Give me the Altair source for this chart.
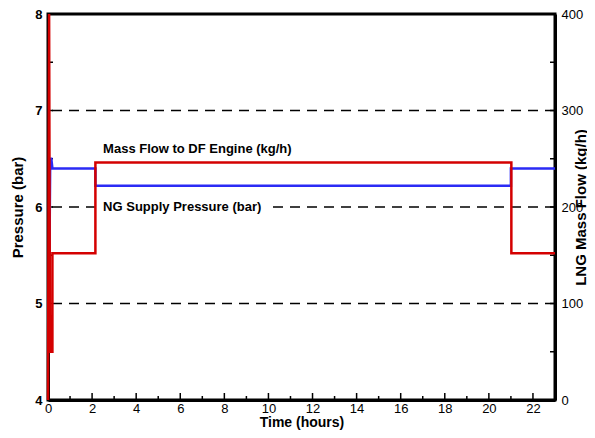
import altair as alt
import pandas as pd

# ---- data ----
hour_labels = [0, 2, 4, 6, 8, 10, 12, 14, 16, 18, 20, 22]
minor_hours = [1, 3, 5, 7, 9, 11, 13, 15, 17, 19, 21]
pressure_labels = [4, 5, 6, 7, 8]
flow_labels = [0, 100, 200, 300, 400]
grid_pressure = [5, 6, 7]
left_tick_vals = [4.5, 5, 5.5, 6, 6.5, 7, 7.5]
right_tick_vals = [50, 100, 150, 200, 250, 300, 350]

blue_t = [0.05, 0.10, 0.15, 0.20, 2.15, 2.15, 21.0, 21.0, 23.0]
blue_p = [5.00, 6.50, 6.50, 6.40, 6.40, 6.22, 6.22, 6.40, 6.40]

red_t = [0.0, 0.05, 0.09, 0.20, 0.20, 2.15, 2.15, 21.02, 21.02, 23.0]
red_m = [0, 400, 50, 50, 152, 152, 246, 246, 152, 152]

label_texts = ["Mass Flow to DF Engine (kg/h)", "NG Supply Pressure (bar)"]
label_t = [2.5, 2.5]
label_p = [6.60, 6.0]
mask_t = [2.25, 10.0]
mask_p = [5.92, 6.08]

W, H = 507, 386
FONT = "Liberation Sans"
RED = "#d40000"
BLUE = "#2b2bf5"

df_blue = pd.DataFrame({"t": blue_t, "p": blue_p, "i": range(len(blue_t))})
df_red = pd.DataFrame({"t": red_t, "m": red_m, "i": range(len(red_t))})
df_grid = pd.DataFrame({"p": grid_pressure})
df_lt = pd.DataFrame({"p": left_tick_vals})
df_rt = pd.DataFrame({"m": right_tick_vals})
df_minor = pd.DataFrame({"t": minor_hours})
df_major = pd.DataFrame({"t": hour_labels[1:]})
df_lab = pd.DataFrame({"t": label_t, "p": label_p, "txt": label_texts})
df_mask = pd.DataFrame({"t1": [mask_t[0]], "t2": [mask_t[1]], "p1": [mask_p[0]], "p2": [mask_p[1]]})

xs = alt.Scale(domain=[0, 23], nice=False, zero=False)
ps = alt.Scale(domain=[4, 8], nice=False, zero=False)
ms = alt.Scale(domain=[0, 400], nice=False, zero=False)


def x_axis():
    return alt.Axis(values=hour_labels, title="Time (hours)", ticks=False, tickSize=0,
                    labelPadding=2, labelFontSize=13, labelFlush=False, grid=False,
                    domainWidth=3, domainColor="black",
                    titleFontSize=14, titleFontWeight="bold", titleX=W / 2, titleY=29.5,
                    titleBaseline="bottom", titleAlign="center")


def p_axis():
    return alt.Axis(orient="left", values=pressure_labels, format="d", title="Pressure (bar)",
                    ticks=False, tickSize=0, labelPadding=6, labelFontSize=13,
                    labelFontWeight="bold", labelFlush=False, grid=False,
                    domainWidth=3, domainColor="black",
                    titleFontSize=15, titleFontWeight="bold", titleAngle=270,
                    titleX=-31, titleY=H / 2, titleBaseline="middle", titleAlign="center")


def m_axis():
    return alt.Axis(orient="right", values=flow_labels, format="d", title="LNG Mass Flow (kg/h)",
                    ticks=False, tickSize=0, labelPadding=6, labelFontSize=13,
                    labelFlush=False, grid=False, domainWidth=3, domainColor="black",
                    titleFontSize=15, titleFontWeight="bold", titleAngle=270,
                    titleX=25, titleY=H / 2, titleBaseline="middle", titleAlign="center")


grid = alt.Chart(df_grid).mark_rule(color="black", strokeWidth=1.6, strokeDash=[10, 7]).encode(
    y=alt.Y("p:Q", scale=ps, axis=p_axis()))

mask = alt.Chart(df_mask).mark_rect(color="white").encode(
    x=alt.X("t1:Q", scale=xs, axis=x_axis()), x2="t2:Q",
    y=alt.Y("p1:Q", scale=ps, axis=p_axis()), y2="p2:Q")

labels = alt.Chart(df_lab).mark_text(align="left", baseline="middle", fontSize=13,
                                     fontWeight="bold", font=FONT, color="black").encode(
    x=alt.X("t:Q", scale=xs, axis=x_axis()), y=alt.Y("p:Q", scale=ps, axis=p_axis()),
    text="txt:N")

left_ticks = alt.Chart(df_lt).mark_rule(color="black", strokeWidth=1.5).encode(
    y=alt.Y("p:Q", scale=ps, axis=p_axis()), x=alt.value(0), x2=alt.value(5))

minor_ticks = alt.Chart(df_minor).mark_rule(color="black", strokeWidth=1.5).encode(
    x=alt.X("t:Q", scale=xs, axis=x_axis()), y=alt.value(H), y2=alt.value(H - 4))

major_ticks = alt.Chart(df_major).mark_rule(color="black", strokeWidth=1.5).encode(
    x=alt.X("t:Q", scale=xs, axis=x_axis()), y=alt.value(H), y2=alt.value(H - 7))

blue_line = alt.Chart(df_blue).mark_line(color=BLUE, strokeWidth=2.5).encode(
    x=alt.X("t:Q", scale=xs, axis=x_axis()),
    y=alt.Y("p:Q", scale=ps, axis=p_axis()),
    order="i:Q")

pressure_group = alt.layer(grid, mask, labels, left_ticks, minor_ticks, major_ticks, blue_line)

right_ticks = alt.Chart(df_rt).mark_rule(color="black", strokeWidth=1.5).encode(
    y=alt.Y("m:Q", scale=ms, axis=m_axis()), x=alt.value(W - 5), x2=alt.value(W))

red_line = alt.Chart(df_red).mark_line(color=RED, strokeWidth=2.5).encode(
    x=alt.X("t:Q", scale=xs, axis=x_axis()),
    y=alt.Y("m:Q", scale=ms, axis=m_axis()),
    order="i:Q")

flow_group = alt.layer(right_ticks, red_line)

chart = alt.layer(pressure_group, flow_group).resolve_scale(y="independent").properties(
    width=W, height=H,
    autosize=alt.AutoSizeParams(type="none"),
    padding={"left": 40, "top": 6, "right": 32, "bottom": 30},
).configure(font=FONT).configure_view(stroke="black", strokeWidth=3).configure_axis(
    labelFont=FONT, titleFont=FONT, labelColor="black", titleColor="black")

chart.save("out.html", embed_options={"renderer": "svg", "actions": False})
